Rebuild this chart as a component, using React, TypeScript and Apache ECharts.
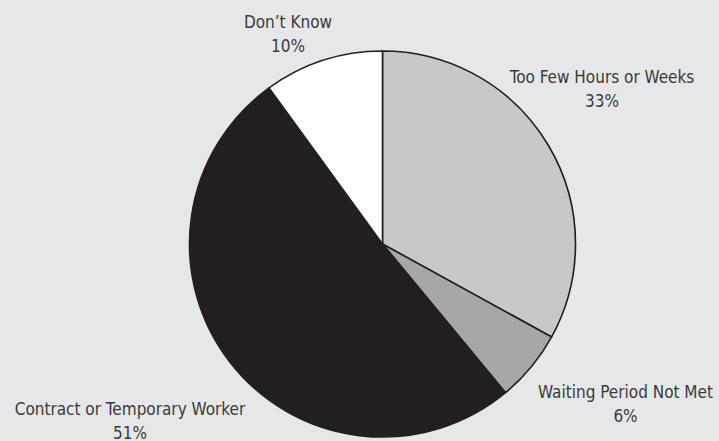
import React, { useEffect, useRef } from "react";
import * as echarts from "echarts";

const categories = [
  "Too Few Hours or Weeks",
  "Waiting Period Not Met",
  "Contract or Temporary Worker",
  "Don\u2019t Know",
];
const values = [33, 6, 51, 10];
const sliceColors = ["#c8c8c9", "#a7a7a8", "#231f20", "#ffffff"];
const labelPositions = [
  [602, 88.5],
  [625.5, 404],
  [130, 421],
  [288, 34],
];

export default function App() {
  const ref = useRef<HTMLDivElement>(null);
  useEffect(() => {
    if (!ref.current) return;
    const chart = echarts.init(ref.current, undefined, { renderer: "svg" });
    chart.setOption({
      animation: false,
      backgroundColor: "#e6e7e8",
      series: [
        {
          type: "pie",
          center: [382.5, 244],
          radius: 193,
          startAngle: 90,
          clockwise: true,
          data: categories.map((name, i) => ({
            name,
            value: values[i],
            itemStyle: { color: sliceColors[i] },
          })),
          itemStyle: { borderColor: "#231f20", borderWidth: 1.6 },
          label: {
            show: true,
            position: "outside",
            formatter: (p: any) => `${p.name}\n${p.value}%`,
            fontFamily: "'DejaVu Sans Condensed', 'Liberation Sans Narrow', sans-serif",
            fontSize: 17,
            lineHeight: 24,
            color: "#3a3a3a",
            align: "center",
            overflow: "none",
            width: 300,
          },
          labelLine: { show: false },
          labelLayout: (params: any) => {
            const pos = labelPositions[params.dataIndex];
            return {
              x: pos[0],
              y: pos[1],
              align: "center",
              verticalAlign: "middle",
            };
          },
          emphasis: { disabled: true },
        },
      ],
    });
    return () => chart.dispose();
  }, []);
  return (
    <div
      ref={ref}
      style={{ position: "fixed", left: 0, top: 0, width: 719, height: 441 }}
    />
  );
}
